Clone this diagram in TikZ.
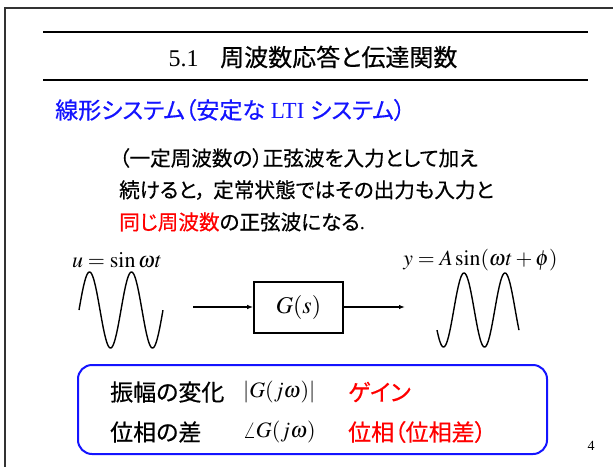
\documentclass[tikz,border=0pt]{standalone}
\usepackage{mathptmx}
\usepackage{fontspec}
\setmainfont{Liberation Serif}
\newfontfamily\jp[RawFeature=+palt, FakeBold=0.5]{Noto Sans CJK JP}
\usetikzlibrary{arrows.meta}
\definecolor{headblue}{RGB}{20,20,255}
\definecolor{keyred}{RGB}{255,0,0}
\newcommand{\fs}[1]{\fontsize{#1}{#1}\selectfont}
\tikzset{
  framelin/.style={line width=2.5pt, black!80},
  rulelin/.style={line width=2pt, black},
  wave/.style={line width=1.4pt, black},
  flow/.style={line width=1.3pt, -{Latex[length=6pt,width=4.5pt]}},
  blockbox/.style={draw, line width=1.6pt, minimum width=89pt, minimum height=51pt, inner sep=0pt},
  sumbox/.style={draw=headblue, line width=2pt, rounded corners=14pt, minimum width=469pt, minimum height=89pt},
  txt/.style={inner sep=0pt, anchor=west},
}
\begin{document}
\begin{tikzpicture}[x=1pt,y=-1pt]
\useasboundingbox (0,0) rectangle (613,466);
% frame
\draw[framelin] (5,470) -- (5,8) -- (615,8);
% title rules
\draw[rulelin] (43,32) -- (588,32);
\draw[rulelin] (43,80) -- (588,80);
\node (title) at (313,57) {\fs{24}5.1\hspace{0.9em}{\jp 周波数応答と伝達関数}};
% heading
\node[txt, text=headblue] (head) at (55,110) {\fs{23}{\jp 線形システム（安定な}\hspace{0.25em}LTI\hspace{0.25em}{\jp システム）}};
% body
\node[txt] (b1) at (119,158) {\fs{20.6}\jp （一定周波数の）正弦波を入力として加え};
\node[txt] (b2) at (119,190) {\fs{20.6}\jp 続けると，\hspace{0.35em}定常状態ではその出力も入力と};
\node[txt] (b3) at (119,222) {\fs{20.6}{\jp\color{keyred}同じ周波数}{\jp の正弦波になる}.};
% signals
\node (ulab) at (117,260) {\fs{22}$u=\sin\omega t$};
\node (ylab) at (480.5,260) {\fs{21.7}$y=A\sin(\omega t+\phi)$};
\draw[wave] plot[domain=0:2, samples=120, smooth] ({79+42*\x},{310-38*sin(360*\x)});
\draw[wave] plot[domain=-27:55, samples=120, smooth] ({464+\x},{310-37*cos(8.7805*\x)});
\node[blockbox] (G) at (298.5,307.5) {\fs{24}$G(s)$};
\coordinate (inp) at (193,307);
\coordinate (outp) at (405,307);
\draw[flow] (inp) -- (inp -| G.west);
\draw[flow] (outp -| G.east) -- (outp);
% summary box
\node[sumbox] (sum) at (312.5,409.5) {};
\node[txt] (r1a) at (110,392) {\fs{23}\jp 振幅の変化};
\node[txt] (r1b) at (243,392) {\fs{22}$|G(j\omega)|$};
\node[txt, text=keyred] (r1c) at (348,392) {\fs{23}\jp ゲイン};
\node[txt] (r2a) at (110,432) {\fs{23}\jp 位相の差};
\node[txt] (r2b) at (243,432) {\fs{22}$\angle G(j\omega)$};
\node[txt, text=keyred] (r2c) at (348,432) {\fs{23}\jp 位相（位相差）};
% page number
\node (pg) at (591,446) {\fs{14}4};
\end{tikzpicture}
\end{document}
